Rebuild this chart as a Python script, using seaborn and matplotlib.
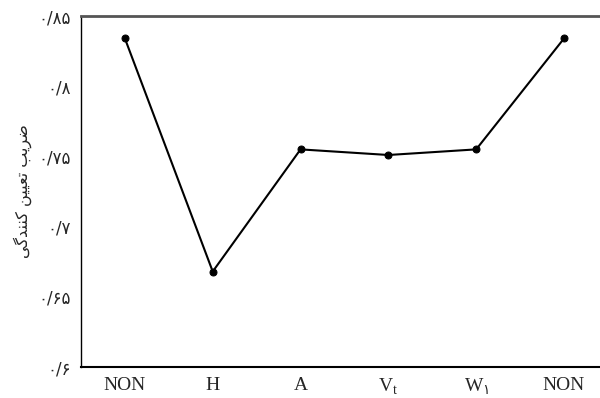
import matplotlib
matplotlib.use("Agg")
import matplotlib.pyplot as plt
import seaborn as sns
import pandas as pd

# Model variants and their coefficient of determination
categories = ["NON", "H", "A", r"$\mathrm{V}_{\mathrm{t}}$", r"$\mathrm{W}_{\mathsf{۱}}$", "NON"]
r2_values = [0.834, 0.668, 0.755, 0.751, 0.755, 0.834]
y_ticks = [0.60, 0.65, 0.70, 0.75, 0.80, 0.85]
y_tick_labels = ["۰/۶", "۰/۶۵", "۰/۷", "۰/۷۵", "۰/۸", "۰/۸۵"]
# "ضریب تعیین کنندگی" in shaped presentation forms, visual order
y_label = "\ufbfd\ufb94\ufeaa\ufee8\ufee8\ufb90 \ufee6\ufbff\ufbff\ufecc\ufe97 \ufe90\ufbfe\ufeae\ufebf"

sns.set_style("white")
plt.rcParams["font.family"] = ["Liberation Serif", "DejaVu Sans"]
plt.rcParams["mathtext.fontset"] = "custom"
plt.rcParams["mathtext.rm"] = "Liberation Serif"
plt.rcParams["mathtext.sf"] = "DejaVu Sans"

df = pd.DataFrame({"pos": list(range(len(categories))), "r2": r2_values})

fig = plt.figure(figsize=(6.0, 3.98), dpi=100)
ax = fig.add_axes([81 / 600, 1 - 367 / 398, 1 - 81 / 600, (367 - 16) / 398])

sns.lineplot(data=df, x="pos", y="r2", ax=ax, color="black", linewidth=1.5,
             marker="o", markersize=5, markeredgecolor="black", markerfacecolor="black")

ax.set_xlim(-0.5, 5.41)
ax.set_ylim(0.6, 0.85)
ax.set_xticks(df["pos"])
ax.set_xticklabels(categories, fontsize=14)
ax.set_yticks(y_ticks)
ax.set_yticklabels(y_tick_labels, fontsize=12, family=["DejaVu Sans"])
ax.tick_params(axis="x", length=0, pad=7)
ax.tick_params(axis="y", length=0, pad=7)
ax.set_xlabel("")
ax.set_ylabel(y_label, fontsize=11.5, family=["DejaVu Sans"], labelpad=5)

ax.spines["right"].set_visible(False)
ax.spines["top"].set_color("#555555")
ax.spines["top"].set_linewidth(2)
ax.spines["left"].set_color("black")
ax.spines["left"].set_linewidth(1)
ax.spines["bottom"].set_color("black")
ax.spines["bottom"].set_linewidth(1.5)

fig.savefig("out.png", dpi=100)
